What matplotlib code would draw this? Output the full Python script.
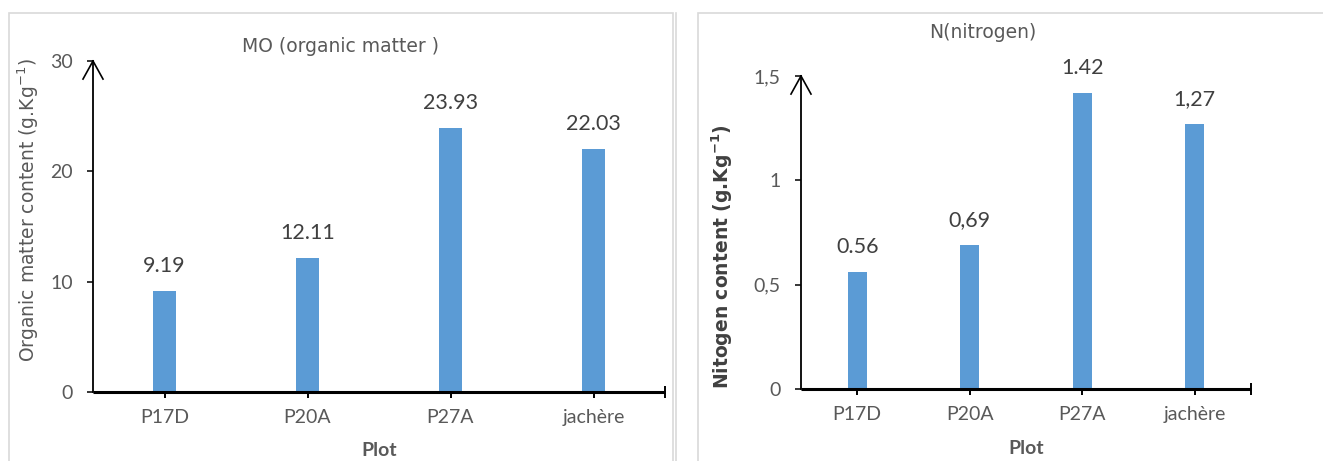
import matplotlib
matplotlib.use("Agg")
import matplotlib.pyplot as plt
from matplotlib.patches import Rectangle
from matplotlib.lines import Line2D
from matplotlib.transforms import ScaledTranslation

# ---- data ----
plots = ["P17D", "P20A", "P27A", "jachère"]
om_labels = ["9.19", "12.11", "23.93", "22.03"]
n_labels = ["0.56", "0,69", "1.42", "1,27"]
om_ticks = [0, 10, 20, 30]
om_ticklabels = ["0", "10", "20", "30"]
n_ticks = [0, 0.5, 1, 1.5]
n_ticklabels = ["0", "0,5", "1", "1,5"]

om_values = [float(s.replace(",", ".")) for s in om_labels]
n_values = [float(s.replace(",", ".")) for s in n_labels]

W, H = 1323, 461
BAR = "#5B9BD5"
GREY = "#595959"
FONT = ["Lato", "DejaVu Sans"]

fig = plt.figure(figsize=(W / 100, H / 100), dpi=100)
fig.patch.set_facecolor("white")


def px_rect(x0, y_top, x1, y_bot):
    return [x0 / W, 1 - y_bot / H, (x1 - x0) / W, (y_bot - y_top) / H]


# chart frames
fig.patches.append(Rectangle((9 / W, -0.05), (673 - 9) / W, 1.05 - 13 / H,
                             transform=fig.transFigure, fill=False,
                             edgecolor="#D9D9D9", linewidth=1.2))
fig.lines.append(Line2D([676 / W, 676 / W], [-0.05, 1 - 13 / H],
                        transform=fig.transFigure, color="#D9D9D9", linewidth=1.2))
fig.patches.append(Rectangle((698 / W, -0.05), 0.5, 1.05 - 13 / H,
                             transform=fig.transFigure, fill=False,
                             edgecolor="#D9D9D9", linewidth=1.2))


def draw_panel(ax, values, labels, ticks, ticklabels, ymax, width):
    x = list(range(len(plots)))
    ax.bar(x, values, width=width, color=BAR, zorder=2)
    ax.set_xlim(-0.5, len(plots) - 0.5)
    ax.set_ylim(0, ymax)
    for s in ("top", "right"):
        ax.spines[s].set_visible(False)
    ax.spines["left"].set_linewidth(1.3)
    ax.spines["left"].set_color("black")
    ax.spines["bottom"].set_linewidth(2.2)
    ax.spines["bottom"].set_color("black")
    ax.spines["bottom"].set_capstyle("butt")

    ax.set_xticks(x + [len(plots) - 0.5])
    ax.set_xticklabels(plots + [""], fontfamily=FONT, fontsize=14, color=GREY)
    ax.tick_params(axis="x", direction="inout", length=9, width=1.4,
                   color="black", pad=8)
    ax.set_yticks(ticks)
    ax.set_yticklabels(ticklabels, fontfamily=FONT, fontsize=14, color=GREY)
    ax.tick_params(axis="y", direction="out", length=4.5, width=1.1,
                   color="black", pad=10)

    for xi, v, s in zip(x, values, labels):
        ax.annotate(s, (xi, v), xytext=(0, 18), textcoords="offset points",
                    ha="center", va="center", fontfamily=FONT, fontsize=15.5,
                    color="#404040")

    # open arrowhead on top of the value axis
    t = ax.transAxes
    inv = fig.transFigure.inverted()
    apex = inv.transform(t.transform((0, 1)))
    for dx in (-7.2, 7.2):
        off = ScaledTranslation(dx / 72, -13 / 72, fig.dpi_scale_trans)
        wing = inv.transform((t + off).transform((0, 1)))
        fig.lines.append(Line2D([apex[0], wing[0]], [apex[1], wing[1]],
                                transform=fig.transFigure, color="black",
                                linewidth=1.2))


ax1 = fig.add_axes(px_rect(93, 61, 665, 392))
draw_panel(ax1, om_values, om_labels, om_ticks, om_ticklabels, 30, 0.16)
ax2 = fig.add_axes(px_rect(801, 76, 1251, 389))
draw_panel(ax2, n_values, n_labels, n_ticks, n_ticklabels, 1.5, 0.17)

# titles
fig.text(341 / W, 1 - 47 / H, "MO (organic matter )", ha="center", va="center",
         fontfamily="DejaVu Sans", fontsize=13.5, color=GREY)
fig.text(983 / W, 1 - 32 / H, "N(nitrogen)", ha="center", va="center",
         fontfamily="DejaVu Sans", fontsize=13.5, color=GREY)

# axis titles
fig.text(379 / W, 1 - 450 / H, "Plot", ha="center", va="center",
         fontfamily=FONT, fontsize=14, fontweight="bold", color=GREY)
fig.text(1026 / W, 1 - 448 / H, "Plot", ha="center", va="center",
         fontfamily=FONT, fontsize=14, fontweight="bold", color=GREY)
fig.text(28 / W, 1 - 210 / H, r"Organic matter content (g.Kg$^{-1}$)",
         rotation=90, ha="center", va="center", fontfamily="DejaVu Sans",
         fontsize=13.5, color=GREY)
fig.text(722 / W, 1 - 257 / H, r"Nitogen content (g.Kg$^{\mathbf{-1}}$)",
         rotation=90, ha="center", va="center", fontfamily="DejaVu Sans",
         fontsize=13.5, fontweight="bold", color="#404040")

fig.savefig("out.png", dpi=100, facecolor="white")
